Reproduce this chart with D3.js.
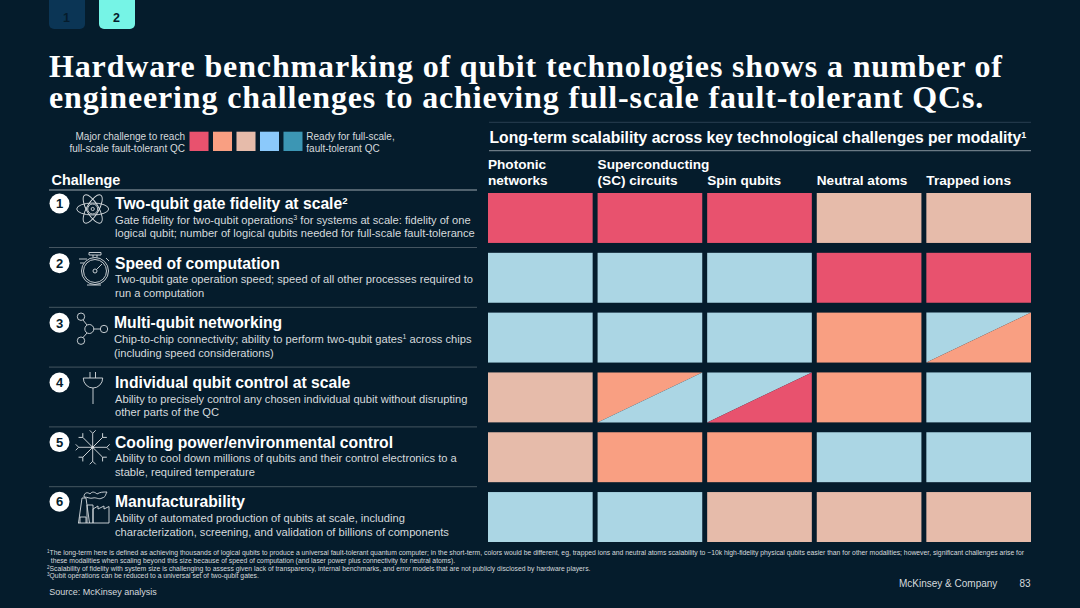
<!DOCTYPE html>
<html>
<head>
<meta charset="utf-8">
<script src="https://cdn.jsdelivr.net/npm/d3@7/dist/d3.min.js"></script>
<style>
  html, body { margin: 0; padding: 0; background: #051c2c; }
  svg { display: block; font-family: "Liberation Sans", Arial, sans-serif; }
</style>
</head>
<body>
<svg id="chart" width="1080" height="608"></svg>
<script>
// data
const modalities = ["Photonic networks", "Superconducting (SC) circuits", "Spin qubits", "Neutral atoms", "Trapped ions"];
const modalityLines = [["Photonic", "networks"], ["Superconducting", "(SC) circuits"], ["Spin qubits"], ["Neutral atoms"], ["Trapped ions"]];
const challenges = ["Two-qubit gate fidelity at scale", "Speed of computation", "Multi-qubit networking",
  "Individual qubit control at scale", "Cooling power/environmental control", "Manufacturability"];
const challengeSup = ["2", "", "", "", "", ""];
const challengeDesc = [
  [["Gate fidelity for two-qubit operations", "3", " for systems at scale: fidelity of one"], ["logical qubit; number of logical qubits needed for full-scale fault-tolerance"]],
  [["Two-qubit gate operation speed; speed of all other processes required to"], ["run a computation"]],
  [["Chip-to-chip connectivity; ability to perform two-qubit gates", "1", " across chips"], ["(including speed considerations)"]],
  [["Ability to precisely control any chosen individual qubit without disrupting"], ["other parts of the QC"]],
  [["Ability to cool down millions of qubits and their control electronics to a"], ["stable, required temperature"]],
  [["Ability of automated production of qubits at scale, including"], ["characterization, screening, and validation of billions of components"]]
];
// rating per challenge and modality; 1 = major challenge, 4 = the pale blue of the grid
// a pair means a split cell: [upper left, lower right]
const row1 = [1, 1, 1, 3, 3];
const row2 = [4, 4, 4, 1, 1];
const row3 = [4, 4, 4, 2, [4, 2]];
const row4 = [3, [2, 4], [4, 1], 2, 4];
const row5 = [3, 2, 2, 4, 4];
const row6 = [4, 4, 3, 3, 3];
const ratings = [row1, row2, row3, row4, row5, row6];
const legendColors = ["#e8526e", "#f99f82", "#e6bbaa", "#8bc9fb", "#3c96b4"];
const ratingColors = { 1: "#e8526e", 2: "#f99f82", 3: "#e6bbaa", 4: "#abd6e4" };
const footnotes = [
  ["1", "The long-term here is defined as achieving thousands of logical qubits to produce a universal fault-tolerant quantum computer; in the short-term, colors would be different, eg, trapped ions and neutral atoms scalability to ~10k high-fidelity physical qubits easier than for other modalities; however, significant challenges arise for"],
  ["", "  these modalities when scaling beyond this size because of speed of computation (and laser power plus connectivity for neutral atoms)."],
  ["2", "Scalability of fidelity with system size is challenging to assess given lack of transparency, internal benchmarks, and error models that are not publicly disclosed by hardware players."],
  ["3", "Qubit operations can be reduced to a universal set of two-qubit gates."]
];

const svg = d3.select("#chart");
const white = "#ffffff";
const grey = "#d5dadd";
const bg = "#051c2c";

svg.append("rect").attr("width", 1080).attr("height", 608).attr("fill", bg);

function label(g, x, y, txt, size, opts) {
  opts = opts || {};
  return g.append("text").attr("x", x).attr("y", y)
    .attr("font-size", size)
    .attr("font-weight", opts.weight || null)
    .attr("font-family", opts.family || null)
    .attr("text-anchor", opts.anchor || null)
    .attr("letter-spacing", opts.spacing || null)
    .attr("fill", opts.fill || white)
    .text(txt);
}

function sup(textSel, txt, size) {
  textSel.append("tspan").attr("font-size", size).attr("dy", -size * 0.55).text(txt);
}

// page tabs
[[49, "#0b3555", "1"], [99, "#76f4e6", "2"]].forEach(t => {
  svg.append("path")
    .attr("d", `M${t[0]},0V24a5,5 0 0 0 5,5H${t[0] + 31}a5,5 0 0 0 5,-5V0Z`)
    .attr("fill", t[1]);
  label(svg, t[0] + 17.5, 21.7, t[2], 12.5, { weight: "bold", anchor: "middle", fill: bg });
});

// title
const titleFont = "'Liberation Serif', Georgia, serif";
const titleOpts = { weight: "bold", family: titleFont, spacing: 0.85 };
label(svg, 49, 76.5, "Hardware benchmarking of qubit technologies shows a number of", 32, titleOpts);
label(svg, 49, 107.5, "engineering challenges to achieving full-scale fault-tolerant QCs.", 32, titleOpts);

// legend
label(svg, 185, 139.5, "Major challenge to reach", 10, { anchor: "end", fill: grey });
label(svg, 185, 151.5, "full-scale fault-tolerant QC", 10, { anchor: "end", fill: grey });
const legendX = d3.scaleBand().domain(d3.range(legendColors.length)).range([189.5, 302.5]).paddingInner(0.19);
svg.append("g").selectAll("rect").data(legendColors).join("rect")
  .attr("x", (d, i) => legendX(i)).attr("y", 131.7)
  .attr("width", legendX.bandwidth()).attr("height", 19.3)
  .attr("fill", d => d);
label(svg, 306.3, 139.5, "Ready for full-scale,", 10, { fill: grey });
label(svg, 306.3, 151.5, "fault-tolerant QC", 10, { fill: grey });

// left table
label(svg, 51.5, 185, "Challenge", 14.4, { weight: "bold" });
svg.append("line").attr("x1", 49).attr("x2", 477).attr("y1", 190).attr("y2", 190).attr("stroke", "#6b7a85").attr("stroke-width", 1.3);

const rowY = d3.scaleBand().domain(d3.range(6)).range([193, 542]).paddingInner(0.165);
const colX = d3.scaleBand().domain(modalities).range([488, 1031]).paddingInner(0.045);

const iconDraw = [
  // atom
  g => {
    [0, 60, -60].forEach(a => g.append("ellipse").attr("rx", 16).attr("ry", 6).attr("transform", `rotate(${a})`));
    g.append("circle").attr("r", 5);
    g.append("circle").attr("r", 1.6);
  },
  // stopwatch
  g => {
    g.append("circle").attr("r", 13.5);
    g.append("circle").attr("r", 11.5);
    g.append("circle").attr("r", 2);
    g.append("path").attr("d", "M1.5,-1.5L7,-7M-6,-18.5H6V-16H-6ZM-2,-16V-13.5M2,-16V-13.5M-16,-12H-8M-15,-8H-11M11,-13L14,-10M-8,14H6");
  },
  // network
  g => {
    g.append("circle").attr("cx", -9).attr("cy", -12.3).attr("r", 3.7);
    g.append("circle").attr("cx", -9).attr("cy", 11.7).attr("r", 3.7);
    g.append("circle").attr("cx", -0.7).attr("cy", 0).attr("r", 4.5);
    g.append("circle").attr("cx", 14).attr("cy", 0).attr("r", 3.7);
    g.append("path").attr("d", "M-7,-9L-3,-4M-7,8.5L-3,4M3.8,0H10.3");
  },
  // plug
  g => {
    g.append("path").attr("d", "M-9.7,0H9.7M-9.7,0A9.7,10 0 0 0 9.7,0M0,10V26M-3,-6V0M2.5,-6V0");
  },
  // snowflake
  g => {
    d3.range(0, 360, 45).forEach(a => g.append("path")
      .attr("transform", `rotate(${a})`)
      .attr("d", "M0,0V-14M-3,-17L0,-14L3,-17"));
    g.append("circle").attr("r", 1).attr("fill", "#d8dde0");
  },
  // factory
  g => {
    g.append("path").attr("d", "M-15,16H16V-0.5L11,2V-1L5,2V-1L0,2V16M0,16V-2H-6V16M-14.5,16L-11,-9H-7L-3.5,16M-13,16V10H-7V16");
    g.append("path").attr("d", "M-9,-10C-9,-15 -5,-15 -3,-13C-1,-16 2,-15 4,-13C7,-15 10,-15 14,-15C12,-12 13,-10 9,-9C6,-7 3,-10 0,-9C-3,-8 -5,-10 -9,-10");
  }
];
const iconPos = [[92.7, 209], [95, 271], [90, 329], [93, 378], [92.7, 447.3], [93, 507]];

challenges.forEach((name, i) => {
  const base = 209 + i * 59.65;
  const g = svg.append("g");
  if (i > 0) {
    const ly = 247.5 + (i - 1) * 59.8;
    g.append("line").attr("x1", 49).attr("x2", 477)
      .attr("y1", ly).attr("y2", ly)
      .attr("stroke", "#55646f").attr("stroke-width", 0.8);
  }
  // number badge
  g.append("circle").attr("cx", 59.5).attr("cy", base - 5.5).attr("r", 10).attr("fill", white);
  label(g, 59.5, base - 0.8, i + 1, 13, { weight: "bold", anchor: "middle", fill: bg });
  // icon
  const ic = g.append("g")
    .attr("transform", `translate(${iconPos[i][0]},${iconPos[i][1]})`)
    .attr("fill", "none").attr("stroke", "#d8dde0").attr("stroke-width", 0.9);
  iconDraw[i](ic);
  // heading
  const tx = i === 2 ? 114 : 115;
  const h = label(g, tx, base, name, 15.7, { weight: "bold" });
  if (challengeSup[i]) sup(h, challengeSup[i], 9.5);
  // description
  challengeDesc[i].forEach((parts, k) => {
    const t = label(g, tx, base + 14.8 + k * 13.5, parts[0], 11.15, { fill: grey });
    if (parts.length > 1) {
      sup(t, parts[1], 7);
      t.append("tspan").attr("dy", 7 * 0.55).text(parts[2]);
    }
  });
});

// right header
const longHead = label(svg, 489.5, 142.7, "Long-term scalability across key technological challenges per modality", 15.7, { weight: "bold" });
sup(longHead, "1", 9);
svg.append("line").attr("x1", 489).attr("x2", 1031).attr("y1", 122.3).attr("y2", 122.3).attr("stroke", "#33475a").attr("stroke-width", 0.8);
svg.append("line").attr("x1", 489).attr("x2", 1031).attr("y1", 150.7).attr("y2", 150.7).attr("stroke", "#6b7a85").attr("stroke-width", 1.2);

modalities.forEach((m, c) => {
  const lines = modalityLines[c];
  lines.forEach((ln, k) => {
    label(svg, colX(m), 185 - (lines.length - 1 - k) * 16, ln, 13.6, { weight: "bold" });
  });
});

// grid of cells
const grid = svg.append("g");
ratings.forEach((row, r) => {
  row.forEach((v, c) => {
    const x0 = colX(modalities[c]), w = colX.bandwidth();
    const y0 = rowY(r), h = rowY.bandwidth();
    if (Array.isArray(v)) {
      grid.append("path").attr("d", d3.line()([[x0, y0], [x0 + w, y0], [x0, y0 + h]]) + "Z").attr("fill", ratingColors[v[0]]);
      grid.append("path").attr("d", d3.line()([[x0 + w, y0], [x0 + w, y0 + h], [x0, y0 + h]]) + "Z").attr("fill", ratingColors[v[1]]);
    } else {
      grid.append("rect").attr("x", x0).attr("y", y0).attr("width", w).attr("height", h).attr("fill", ratingColors[v]);
    }
  });
});

// footnotes
footnotes.forEach((f, i) => {
  const t = svg.append("text").attr("x", 47).attr("y", 555 + i * 7.8)
    .attr("font-size", 6.8).attr("fill", grey).attr("xml:space", "preserve");
  if (f[0]) {
    t.append("tspan").attr("font-size", 4.6).attr("dy", -2).text(f[0]);
    t.append("tspan").attr("dy", 2).text(f[1]);
  } else {
    t.text(f[1]);
  }
});
label(svg, 49.3, 595, "Source: McKinsey analysis", 9, { fill: grey });
label(svg, 899, 586.5, "McKinsey & Company", 10, { fill: grey });
label(svg, 1019.5, 586.5, "83", 10, { fill: grey });
</script>
</body>
</html>
